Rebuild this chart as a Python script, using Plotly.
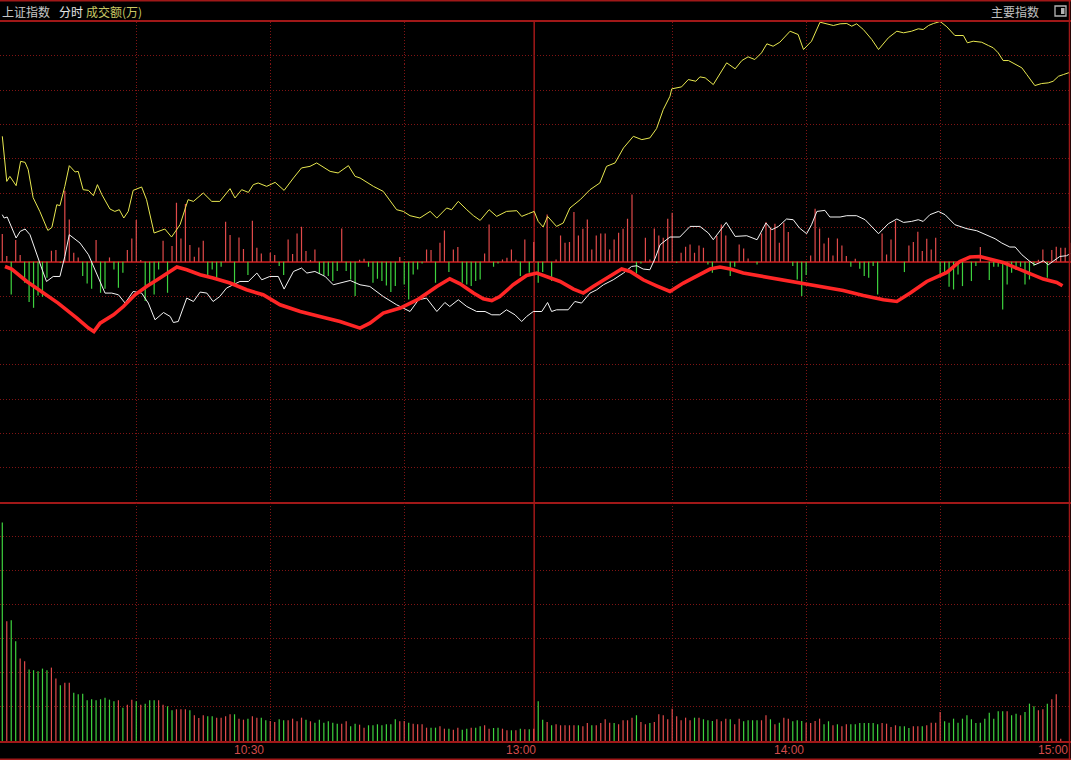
import plotly.graph_objects as go

# ---------------- data ----------------
# minute index 0..239 (9:31 .. 15:00)
minutes = list(range(240))

# yellow line: (minute index, value)
yellow_x = [0,1.0,1.7,3.1,4.1,5.1,5.8,6.9,8.4,10.2,11.1,12.2,12.9,14.0,15.0,16.3,17.0,18.1,19.3,20.4,21.3,22.3,24.1,25.2,26.2,27.2,28.2,29.3,31.2,32.3,34.0,35.3,36.4,37.9,39.8,41.6,42.8,45.0,46.9,48.7,51.0,52.1,53.6,55.1,56.2,57.3,59.2,61.1,63.1,65.2,67.0,68.9,70.4,73.4,75.2,77.5,79.0,80.1,83.1,85.3,88.3,89.8,91.3,93.5,95.8,97.3,99.5,100.6,102.1,104.0,105.5,107.0,109.0,110.7,112.9,115.2,116.3,117.8,119.1,120.0,121.1,122.1,124.1,125.6,127.1,129.4,131.6,133.8,135.3,137.2,139.1,141.3,143.2,145.0,146.5,148.0,149.5,149.9,152.1,153.6,155.3,156.2,157.4,159.2,160.3,162.2,164.1,165.6,167.0,168.5,170.0,171.2,172.6,174.1,176.4,178.2,179.4,181.2,183.1,184.6,186.1,187.6,189.1,190.2,191.3,192.8,194.7,196.2,198.4,200.3,201.8,203.6,205.1,206.2,207.4,208.5,210.0,211.5,213.3,215.2,216.1,217.4,219.3,220.8,221.9,223.0,224.1,225.3,226.8,228.3,229.4,231.2,232.7,234.2,235.3,236.5,237.6,239.1]
yellow_v = [125.3,80.3,85.3,76,100.3,99.3,92,64,50.3,31.3,34.3,57,56,75.3,96,89.7,90.3,72,71.3,66,77,67,52.7,50.3,52,43.7,50.3,71.3,74.7,62,28.7,31.3,32.7,24.7,37,62,60.3,68.7,60.3,60.3,73,63.7,72,69.3,77,78.7,75.3,79.3,71.3,83.7,93.7,95.3,98.7,90.3,88.7,96,85.3,83.7,75.3,70.3,52,50.3,46,43.7,50.3,43.7,53.7,52,60.3,52,46,41.3,52,45.3,50.3,51,45.3,48,50.3,40.3,34.7,45.3,35.3,38.7,53.7,62,72,78.7,95.3,98.7,113.7,125.3,122,123.7,133,152,165.3,172.7,174.7,182,180.3,184.7,183.7,177,185.3,198.7,192.7,201,204.7,202,208.7,217.7,215.3,219.3,230.3,227,212,220.3,239.3,238,236,237.7,238,235.3,237.7,232,222,212,223.7,230.3,228.7,230.3,232.7,232,236,238,240,234.7,226,226,218.7,220.3,219.3,216,213.7,208.7,201,201,197,193.7,187,176,178,178.7,180.3,185.3,187,189.3]

# white line
white_x = [0,0.4,1.1,2.1,3.1,4.0,5.1,6.2,7.7,8.8,9.9,11.4,12.9,14.0,15.0,16.3,17.4,19.3,21.1,23.0,24.5,26.0,27.5,29.3,31.2,32.7,34.2,36.1,37.6,38.3,39.4,41.3,42.8,44.3,45.8,47.2,48.7,50.2,51.7,53.2,55.1,57.0,58.1,59.9,61.8,63.1,65.2,67.0,68.2,70.0,72.3,74.1,75.6,77.9,80.1,82.3,85.3,88.3,91.3,93.2,95.0,97.3,99.1,100.2,102.1,104.0,106.2,108.1,109.6,111.4,112.9,114.8,116.3,117.4,118.9,120.8,122.1,123.0,124.1,126.7,128.2,129.7,131.6,133.1,134.6,136.8,139.1,140.9,142.1,143.5,145.0,146.2,147.3,149.5,151.7,154.0,156.2,158.1,159.2,162.1,164.1,166.7,169.0,171.0,172.3,173.8,175.6,177.1,178.5,180.1,181.2,182.4,184.2,185.3,187.6,189.1,191.3,193.2,196.2,198.4,200.3,201.8,203.6,205.1,206.2,207.7,209.6,211.1,213.3,216.0,218.2,220.4,222.3,223.8,225.6,226.8,228.3,230.1,231.2,232.4,233.1,234.2,235.3,236.8,238.3,239.1]
white_v = [47,43.7,44.7,33.7,23.7,30.3,32.7,27,7,-6.3,-19.7,-14.7,-14.7,5.3,27,22,18.7,7,-11.3,-31.3,-31.3,-33,-41.3,-29.7,-31.3,-41.3,-58,-50.7,-54.7,-60.7,-59.7,-36.3,-39.7,-30.3,-31.3,-39.7,-34.7,-26.3,-23,-19.7,-19.7,-11.3,-18,-14.7,-14.7,-27.3,-9.7,-6.3,-11.3,-9.7,-14.7,-23,-21.3,-18.7,-23,-24.7,-34.7,-43,-49.7,-38,-36.3,-49.7,-40.7,-44.7,-38,-44.7,-49.7,-49.7,-53,-53,-48,-53,-59.7,-54.7,-49.7,-49.7,-40.7,-49.7,-48,-48,-39.7,-41.3,-31.3,-28,-23,-18,-11.3,-4.7,-4,-7.3,-8,3.7,17,24.7,24.7,35.3,35.3,28.7,22,39.3,25.3,26,22,38.7,32,35.3,42.7,42,33.7,28,37,50.3,51.3,44.7,44.7,46,46,42,28,38,42.7,39.3,40.3,42,40.3,47,50.3,47,37,33,31,27,23,18.7,14.7,14.7,7,0.3,-3,-0.7,1,-3,0.3,5.3,6,8]

# thick red line
avg_x = [0.6,2.1,5.5,9.2,12.5,16.7,19.3,20.5,21.9,24.9,27.1,29.7,32.3,35.3,37.6,39.1,41.3,44.3,47.2,51.0,54.7,58.4,62.2,66.7,71.1,75.6,80.1,82.3,85.3,89.1,93.2,97.3,100.2,102.5,105.5,107.7,109.6,111.4,114.4,117.4,119.7,121.9,124.9,127.9,130.1,132.3,135.3,138.7,140.6,143.5,146.5,149.5,152.5,156.2,158.5,160.7,163.0,165.9,170.4,174.9,179.4,183.8,188.3,192.8,197.3,200.3,203.3,207.0,211.5,214.4,216.7,218.9,221.9,224.1,227.1,230.1,233.1,236.1,237.4]
avg_v = [-4.7,-7.3,-19.7,-31.3,-41.3,-56.3,-66.3,-69.7,-61.3,-53,-44.7,-33,-24.7,-16.3,-9.7,-5.3,-8,-13,-16.3,-21.3,-28,-33,-43,-49.7,-54.7,-59.7,-66.3,-61.3,-51.3,-46.3,-37.3,-24.7,-17,-22,-31.3,-37,-38.7,-34.7,-23,-13.7,-11.3,-14.7,-19.7,-27.3,-31.3,-24.7,-16.3,-7.3,-9.7,-18,-24,-29.7,-21.3,-13,-7.3,-5.3,-7.3,-11.3,-14.7,-18.7,-22,-25.3,-28.7,-33.7,-38,-39.7,-31.3,-19.7,-10.7,0.3,4.7,5.3,2,-0.7,-6.3,-12,-17.3,-20.7,-24]

# red / green bars around the zero line (one per minute)
bar_v = [27.7,5.7,-32.7,21.7,6.7,-21,-40.3,-46,-33.7,-35,-16,11,11.7,-1,71,42.3,9,4.3,-14.3,-21.7,
         -27,21.7,-31,-27,4.3,-7.7,-26,-11,11.7,23.3,41.7,1.7,-39.3,-24.3,-32.7,-7.7,21,-31,15.7,59,
         23.3,57.7,16.7,5,14.3,21,-13.3,-7.7,-16,-5,40,26.7,-22.7,24.3,12.7,-13.3,41,14,8.3,0,
         9,6.7,-4.3,-13.3,22.3,7.7,28.3,35,10.7,1.7,12.3,-11.7,-13.3,-14.3,-19.3,-9.3,33.3,-9.3,-17.7,-34.3,
         2,3,-5,-21,-17,-19.3,-23.7,-30.3,-24.3,4.7,-22.7,-37.7,-12.7,-7.7,-1.7,12.3,11.7,-21,19,31.3,
         -10.3,12.3,14.7,-21,-22.7,-24.3,-19.3,-17.7,8.3,37.3,-5,-1.7,2.3,4,12.3,2,-14.3,22.3,-11,19.7,
         -21,-10.3,47.3,-19.3,2.3,26.3,19,19.7,49.7,26.3,33,42.3,12.3,26.3,28.3,28.3,12.3,22.3,29,33,
         43,67.3,-11.7,-1.7,24,2.3,33.3,26.3,24,43,49,-1,9,15,17.3,9,16.3,14,-2.7,-11,
         25.7,37.3,26.3,-14.3,-5,17.3,13.3,3.3,0,-2.7,28.3,39.7,34,38,19,39,29.7,-4.3,-17.7,-34.3,
         -13.3,6.3,53,33.3,18.3,24,6.3,23.3,16.3,5.7,-5,3,-7,-14.3,-16,-4.3,-32.7,28.3,7.3,22.3,
         40.7,0,-10.3,16.3,19.7,30,10.7,23,12.3,24,-12.7,-12.7,-25,-27.7,-12.7,-24.3,0,-19.3,-4.3,14.7,
         0,-18.3,-5,-5,-47.7,-22.7,-11,-8.3,-5,-22.7,-17.7,-4.3,2,12.3,-16,11.7,15,14,14,19]

# volume (成交额) per minute and its direction (r = up, g = down)
volume = [218.3,119.7,120.7,99.7,82.3,79.7,71.3,70.7,69.7,72.3,70.7,73.3,62.3,55.7,58.3,58.3,48.3,46.7,47.3,40.7,
          41.7,40.7,41.7,43.3,41.3,39.7,40.7,33.3,36.3,41.3,39.7,36.3,37.3,40.7,40.7,40.7,36.3,34.7,30.7,31.7,
          31.7,31.7,30.7,25.7,23,25.7,24.7,24.7,23.3,23.3,24.7,26.7,26.7,22.3,21.3,22.3,24.7,23.3,23.3,20.7,
          20,19,21.7,20.7,20.7,22.3,19.7,23.3,21.3,19.7,18.3,21.3,18.3,19.7,18.3,17.3,17.3,19.7,14.7,17.3,
          16.3,13.3,15.7,15.7,16.7,15.7,16.7,16.7,21.7,19.7,20,18.3,17.3,16.7,16.7,13.3,13.3,13.3,14.7,12.3,
          12.3,11.3,13.3,11.3,12.3,13.3,13.3,14.7,15.7,12.3,13,13.3,12.3,10.7,10.7,10.7,12.3,11.7,11.7,12.3,
          39.7,21.3,19,15.7,16.7,15.7,15.7,15.7,15.7,15.7,14.7,18,15.7,15.7,18,21.7,18.3,18,16.7,20.7,
          20.7,23.3,25.7,19,16.7,18,19,26.7,25.7,21.7,32.3,24.7,20.7,23.3,20.7,23.3,23.3,21.7,20.7,20,
          21.7,19.7,22.3,21.7,16.7,22.3,19.7,20.7,20.7,20.7,20.7,25.7,21.7,16.7,18.3,23.3,22.3,19.7,20.7,20,
          18.3,18,20,22.3,16.7,19.7,15.7,16.7,14.7,16.7,16.7,16.7,18,18,18,18,16.7,18,17.3,14,
          15.7,14.7,14.7,13,14.7,14.7,14.7,15.7,18.3,18.3,29,19.7,18.3,22.3,18.3,22.3,25.7,21.7,18,18.3,
          22.3,28.3,22.3,29.7,29.7,29.7,25.7,27.3,25.7,29,37.3,34.7,30.7,31.7,37.3,41.7,46.7,2.3,0,0]
volume_dir = ("grggrrgggggrrgrrgggg" "ggggggrgrrgrgggrrggr" "rrgrrrggrrrrgrrgrrgg" "rrggrrrrgrggggggrrgg"
              "rrgggggggrrgrrrrggrr" "grrggrggrrggrrgrgrgr" "ggrgrrrrrgrrgrrrrgrr" "rrgrrgrrrrrrrrrgrggg"
              "rrrgrrggggrrgrgrrggg" "rrrrggrgrrgggggggrrr" "rgggrrgrrrrggggggggg" "gggggrggrgggrrgrrrrr")

grid_minutes = [30, 60, 90, 150, 180, 210]
session_break = 119.1
time_labels = ["10:30", "13:00", "14:00", "15:00"]
time_label_pos = [59, 120, 180, 239]

# ---------------- styling ----------------
W, H = 1071, 760
BG = "#000000"
GRID = "#801414"
SOLID = "#a01818"
UP = "#e04a4a"
DOWN = "#3ed23e"


def stems(xs, vals, base=0.0):
    X, Y = [], []
    for x, v in zip(xs, vals):
        X += [x, x, None]
        Y += [base, v, None]
    return X, Y


fig = go.Figure()

# bars in the upper panel
up_x = [m for m, v in zip(minutes, bar_v) if v > 0]
up_v = [v for v in bar_v if v > 0]
dn_x = [m for m, v in zip(minutes, bar_v) if v < 0]
dn_v = [v for v in bar_v if v < 0]
X, Y = stems(up_x, up_v)
fig.add_trace(go.Scatter(x=X, y=Y, mode="lines", line=dict(color=UP, width=1.2),
                         hoverinfo="skip", showlegend=False, xaxis="x", yaxis="y"))
X, Y = stems(dn_x, dn_v)
fig.add_trace(go.Scatter(x=X, y=Y, mode="lines", line=dict(color=DOWN, width=1.2),
                         hoverinfo="skip", showlegend=False, xaxis="x", yaxis="y"))

# lines
fig.add_trace(go.Scatter(x=yellow_x, y=yellow_v, mode="lines", line=dict(color="#e8e850", width=1),
                         hoverinfo="skip", showlegend=False, xaxis="x", yaxis="y"))
fig.add_trace(go.Scatter(x=white_x, y=white_v, mode="lines", line=dict(color="#f4f4f4", width=1),
                         hoverinfo="skip", showlegend=False, xaxis="x", yaxis="y"))
fig.add_trace(go.Scatter(x=avg_x, y=avg_v, mode="lines", line=dict(color="#ff2626", width=3.6),
                         hoverinfo="skip", showlegend=False, xaxis="x", yaxis="y"))

# volume bars
vu_x = [m for m, d in zip(minutes, volume_dir) if d == "r"]
vu_v = [v for v, d in zip(volume, volume_dir) if d == "r"]
vd_x = [m for m, d in zip(minutes, volume_dir) if d == "g"]
vd_v = [v for v, d in zip(volume, volume_dir) if d == "g"]
X, Y = stems(vu_x, vu_v)
fig.add_trace(go.Scatter(x=X, y=Y, mode="lines", line=dict(color=UP, width=1.2),
                         hoverinfo="skip", showlegend=False, xaxis="x2", yaxis="y2"))
X, Y = stems(vd_x, vd_v)
fig.add_trace(go.Scatter(x=X, y=Y, mode="lines", line=dict(color=DOWN, width=1.2),
                         hoverinfo="skip", showlegend=False, xaxis="x2", yaxis="y2"))

xr = [-0.515, 239.3]
top_dom = [(H - 502) / H, (H - 21.5) / H]
bot_dom = [(H - 741) / H, (H - 502.7) / H]

common_x = dict(range=xr, tickvals=grid_minutes, showticklabels=False, ticks="",
                showgrid=True, gridcolor=GRID, gridwidth=1, griddash="1px,2px",
                zeroline=False, fixedrange=True)

fig.update_layout(
    width=W, height=H,
    margin=dict(l=0, r=0, t=0, b=0),
    paper_bgcolor=BG, plot_bgcolor=BG,
    showlegend=False,
    xaxis=dict(domain=[0, 1], anchor="y", showline=True, linecolor=SOLID, linewidth=1.5,
               mirror=True, **common_x),
    xaxis2=dict(domain=[0, 1], anchor="y2", matches="x", showline=True, linecolor=SOLID,
                linewidth=1.5, **common_x),
    yaxis=dict(domain=top_dom, range=[-240, 240],
               tickvals=[k * 240 / 7 for k in range(-6, 7) if k != 0],
               showticklabels=False, ticks="", showgrid=True, gridcolor=GRID, gridwidth=1,
               griddash="1px,2px", zeroline=True, zerolinecolor=SOLID, zerolinewidth=1.5,
               showline=False, fixedrange=True),
    yaxis2=dict(domain=bot_dom, range=[0, 238],
                tickvals=[34 * k for k in range(1, 7)],
                showticklabels=False, ticks="", showgrid=True, gridcolor=GRID, gridwidth=1,
                griddash="1px,2px", zeroline=False, showline=False, fixedrange=True),
)

shapes = []
# session break (solid vertical)
shapes.append(dict(type="line", xref="x", yref="paper", x0=session_break, x1=session_break,
                   y0=bot_dom[0], y1=top_dom[1], line=dict(color=SOLID, width=1.5), layer="below"))
# outer borders
shapes.append(dict(type="line", xref="paper", yref="paper", x0=0, x1=1, y0=1 - 0.8 / H, y1=1 - 0.8 / H,
                   line=dict(color=SOLID, width=1.5)))
shapes.append(dict(type="line", xref="paper", yref="paper", x0=0, x1=1, y0=0.8 / H, y1=0.8 / H,
                   line=dict(color=SOLID, width=1.5)))
shapes.append(dict(type="line", xref="paper", yref="paper", x0=1 - 1.5 / W, x1=1 - 1.5 / W, y0=0, y1=1,
                   line=dict(color=SOLID, width=1.5)))
# header icon
shapes.append(dict(type="rect", xref="paper", yref="paper", x0=1055 / W, x1=1066 / W,
                   y0=(H - 16) / H, y1=(H - 6) / H, line=dict(color="#b4b4b4", width=1.3)))
shapes.append(dict(type="rect", xref="paper", yref="paper", x0=1061 / W, x1=1064.5 / W,
                   y0=(H - 14) / H, y1=(H - 8) / H, line=dict(width=0), fillcolor="#b4b4b4"))
fig.update_layout(shapes=shapes)

CJK = "Noto Sans CJK SC"
ann = []
hy = (H - 11.5) / H
ann.append(dict(text="上证指数", x=0, y=hy, xref="paper", yref="paper", xanchor="left", yanchor="middle",
                showarrow=False, font=dict(family=CJK, size=12, color="#c8c8c8")))
ann.append(dict(text="分时", x=57 / W, y=hy, xref="paper", yref="paper", xanchor="left", yanchor="middle",
                showarrow=False, font=dict(family=CJK, size=12, color="#e6e6e6")))
ann.append(dict(text="成交额(万)", x=84 / W, y=hy, xref="paper", yref="paper", xanchor="left",
                yanchor="middle", showarrow=False, font=dict(family=CJK, size=12, color="#c8c864")))
ann.append(dict(text="主要指数", x=1041 / W, y=hy, xref="paper", yref="paper", xanchor="right",
                yanchor="middle", showarrow=False, font=dict(family=CJK, size=12, color="#c0c0c0")))
for lab, pos in zip(time_labels, time_label_pos):
    ann.append(dict(text=lab, x=pos, y=(H - 749.5) / H, xref="x2", yref="paper", xanchor="right",
                    yanchor="middle", showarrow=False,
                    font=dict(family="Liberation Sans", size=12, color="#d24b4b")))
fig.update_layout(annotations=ann)

fig.write_html(
    "out.html",
    config={"displayModeBar": False},
    post_script="document.body.style.margin='0';document.body.style.padding='0';"
                "document.body.style.overflow='hidden';document.body.style.background='#000';",
)
